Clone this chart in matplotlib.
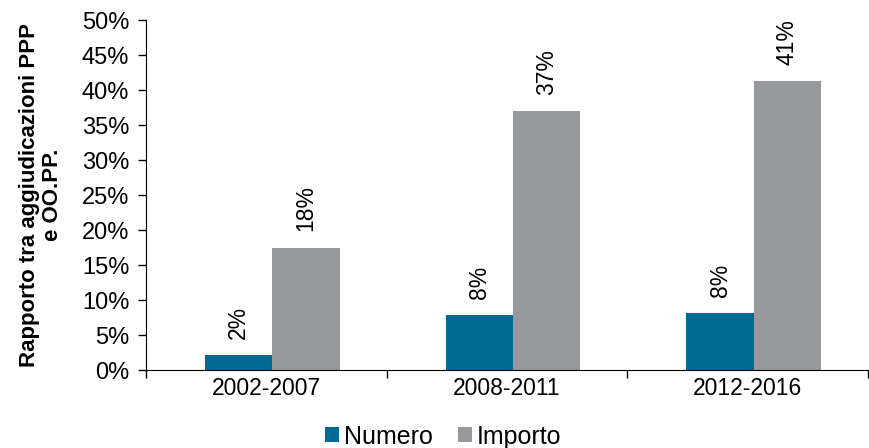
import numpy as np
import matplotlib.pyplot as plt
from matplotlib.ticker import FixedLocator, PercentFormatter

plt.rcParams['font.family'] = ['Liberation Sans', 'DejaVu Sans']

# dati
periodi = ["2002-2007", "2008-2011", "2012-2016"]
numero = [2.1, 7.8, 8.1]
importo = [17.5, 37.0, 41.3]
etichette_numero = ["2%", "8%", "8%"]
etichette_importo = ["18%", "37%", "41%"]

col_numero = "#006994"
col_importo = "#97989c"

fig = plt.figure(figsize=(8.69, 4.48), dpi=100)
ax = fig.add_axes([0.168, 0.174, 0.831, 0.781])

x = np.arange(len(periodi))
w = 0.28
shift = 0.025
ax.bar(x - w / 2 + shift, numero, w, color=col_numero, label="Numero")
ax.bar(x + w / 2 + shift, importo, w, color=col_importo, label="Importo")

# etichette ruotate sopra le barre
for i in range(len(periodi)):
    ax.text(x[i] - w / 2 + shift, numero[i] + 2.3, etichette_numero[i],
            rotation=90, ha="center", va="bottom", fontsize=16.5)
    ax.text(x[i] + w / 2 + shift, importo[i] + 2.3, etichette_importo[i],
            rotation=90, ha="center", va="bottom", fontsize=16.5)

ax.set_xlim(-0.5, 2.5)
ax.set_ylim(0, 50)
ax.set_yticks(np.arange(0, 51, 5))
ax.yaxis.set_major_formatter(PercentFormatter(decimals=0))
ax.set_xticks(x)
ax.set_xticklabels(periodi)
ax.xaxis.set_minor_locator(FixedLocator([-0.5, 0.5, 1.5, 2.5]))
ax.tick_params(axis="x", which="major", length=0, labelsize=16.5, pad=5)
ax.tick_params(axis="x", which="minor", length=6, direction="out", width=1)
ax.tick_params(axis="y", length=6, direction="out", labelsize=17, width=1, pad=6)

for s in ["top", "right"]:
    ax.spines[s].set_visible(False)

ax.set_ylabel("Rapporto tra aggiudicazioni PPP\ne OO.PP.", fontsize=16,
              fontweight="bold", labelpad=14, linespacing=1.1)

fig.legend(loc="center", bbox_to_anchor=(0.51, 0.025), ncol=2, frameon=False,
           fontsize=18, handlelength=0.55, handleheight=0.55, handletextpad=0.2,
           columnspacing=1.0, borderpad=0.1)

fig.savefig("out.png", dpi=100)
